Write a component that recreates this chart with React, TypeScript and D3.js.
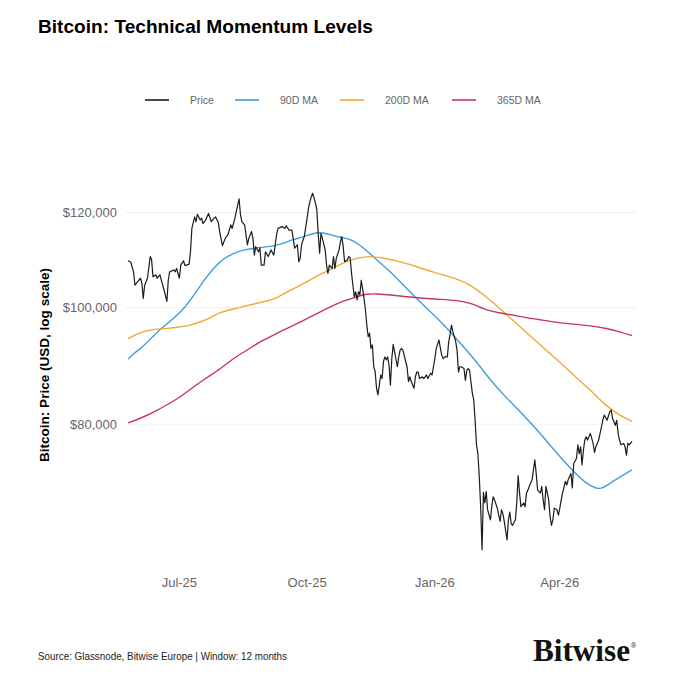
import React from "react";
import * as d3 from "d3";

// daily BTC close (USD)
const price: [string, number][] = [
  ["2025-05-25", 109400], ["2025-05-27", 109100], ["2025-05-29", 107100], ["2025-05-30", 104400],
  ["2025-06-01", 105100], ["2025-06-03", 105800], ["2025-06-04", 104800], ["2025-06-05", 101800],
  ["2025-06-06", 104400], ["2025-06-08", 105800], ["2025-06-10", 110300], ["2025-06-11", 109600],
  ["2025-06-12", 106100], ["2025-06-14", 106500], ["2025-06-15", 105800], ["2025-06-17", 106500],
  ["2025-06-19", 104400], ["2025-06-20", 103400], ["2025-06-22", 101200], ["2025-06-23", 105400],
  ["2025-06-24", 107100], ["2025-06-27", 107500], ["2025-06-28", 107100], ["2025-06-29", 107800],
  ["2025-07-01", 105800], ["2025-07-02", 108500], ["2025-07-04", 109400], ["2025-07-05", 108400],
  ["2025-07-08", 108700], ["2025-07-09", 111300], ["2025-07-10", 116400], ["2025-07-12", 119000],
  ["2025-07-13", 117900], ["2025-07-14", 119600], ["2025-07-16", 118300], ["2025-07-17", 118700],
  ["2025-07-18", 117500], ["2025-07-20", 118300], ["2025-07-22", 119800], ["2025-07-24", 117900],
  ["2025-07-26", 118700], ["2025-07-27", 119000], ["2025-07-29", 117800], ["2025-07-30", 115700],
  ["2025-08-01", 112600], ["2025-08-03", 114200], ["2025-08-05", 115000], ["2025-08-07", 117200],
  ["2025-08-08", 116400], ["2025-08-09", 117500], ["2025-08-10", 118700], ["2025-08-11", 120200],
  ["2025-08-13", 123200], ["2025-08-14", 119500], ["2025-08-15", 117900], ["2025-08-17", 117200],
  ["2025-08-18", 115000], ["2025-08-19", 112800], ["2025-08-20", 114200], ["2025-08-22", 115700],
  ["2025-08-23", 114200], ["2025-08-24", 110600], ["2025-08-25", 112400], ["2025-08-27", 111300],
  ["2025-08-28", 112100], ["2025-08-29", 108500], ["2025-08-31", 108500], ["2025-09-01", 111300],
  ["2025-09-03", 110300], ["2025-09-05", 111700], ["2025-09-07", 110600], ["2025-09-09", 115000],
  ["2025-09-10", 116400], ["2025-09-13", 116800], ["2025-09-15", 116400], ["2025-09-16", 117000],
  ["2025-09-18", 116000], ["2025-09-20", 116000], ["2025-09-21", 114200], ["2025-09-22", 112100],
  ["2025-09-24", 112800], ["2025-09-25", 109200], ["2025-09-26", 109900], ["2025-09-27", 112800],
  ["2025-09-28", 113800], ["2025-09-29", 114600], ["2025-10-01", 118700], ["2025-10-02", 121000],
  ["2025-10-03", 122500], ["2025-10-04", 123700], ["2025-10-05", 124500], ["2025-10-06", 123400],
  ["2025-10-07", 122200], ["2025-10-08", 120600], ["2025-10-09", 115300], ["2025-10-10", 111000],
  ["2025-10-11", 115300], ["2025-10-12", 114200], ["2025-10-14", 111700], ["2025-10-15", 108500],
  ["2025-10-16", 106800], ["2025-10-17", 108500], ["2025-10-19", 107800], ["2025-10-20", 110300],
  ["2025-10-21", 107800], ["2025-10-22", 109900], ["2025-10-24", 111700], ["2025-10-25", 113500],
  ["2025-10-26", 114600], ["2025-10-27", 112400], ["2025-10-28", 109200], ["2025-10-30", 109600],
  ["2025-10-31", 110300], ["2025-11-01", 110000], ["2025-11-02", 106800], ["2025-11-03", 104400],
  ["2025-11-04", 102100], ["2025-11-05", 103100], ["2025-11-06", 101500], ["2025-11-07", 103100],
  ["2025-11-08", 102500], ["2025-11-09", 105400], ["2025-11-11", 101800], ["2025-11-12", 99600],
  ["2025-11-13", 96700], ["2025-11-14", 94600], ["2025-11-15", 95200], ["2025-11-16", 92500],
  ["2025-11-17", 93100], ["2025-11-18", 89300], ["2025-11-19", 88500], ["2025-11-20", 85700],
  ["2025-11-21", 84600], ["2025-11-22", 86200], ["2025-11-23", 87900], ["2025-11-24", 87300],
  ["2025-11-25", 90200], ["2025-11-26", 91000], ["2025-11-27", 90500], ["2025-11-28", 91000],
  ["2025-11-29", 89600], ["2025-11-30", 86200], ["2025-12-01", 90700], ["2025-12-02", 93200],
  ["2025-12-03", 91900], ["2025-12-05", 89300], ["2025-12-06", 91000], ["2025-12-07", 92200],
  ["2025-12-08", 92500], ["2025-12-09", 92200], ["2025-12-11", 90200], ["2025-12-12", 89300],
  ["2025-12-13", 86800], ["2025-12-14", 87600], ["2025-12-15", 86800], ["2025-12-17", 85700],
  ["2025-12-18", 87600], ["2025-12-19", 88400], ["2025-12-20", 88400], ["2025-12-21", 87300],
  ["2025-12-23", 87600], ["2025-12-24", 87300], ["2025-12-25", 87600], ["2025-12-26", 87900],
  ["2025-12-27", 87300], ["2025-12-29", 88200], ["2025-12-30", 87900], ["2025-12-31", 89300],
  ["2026-01-01", 90700], ["2026-01-02", 92500], ["2026-01-04", 94000], ["2026-01-05", 92500],
  ["2026-01-06", 91300], ["2026-01-07", 90700], ["2026-01-08", 91000], ["2026-01-10", 91000],
  ["2026-01-11", 93700], ["2026-01-12", 95000], ["2026-01-13", 96700], ["2026-01-14", 95500],
  ["2026-01-16", 93700], ["2026-01-17", 92200], ["2026-01-18", 88400], ["2026-01-19", 89300],
  ["2026-01-20", 89300], ["2026-01-22", 89000], ["2026-01-23", 87000], ["2026-01-24", 88700],
  ["2026-01-25", 89000], ["2026-01-26", 88700], ["2026-01-28", 84900], ["2026-01-29", 83800],
  ["2026-01-30", 80600], ["2026-01-31", 76900], ["2026-02-01", 75600], ["2026-02-02", 72300],
  ["2026-02-03", 68300], ["2026-02-04", 62900], ["2026-02-05", 70200], ["2026-02-06", 68800],
  ["2026-02-07", 70300], ["2026-02-08", 67900], ["2026-02-10", 66600], ["2026-02-11", 68300],
  ["2026-02-12", 69600], ["2026-02-13", 69200], ["2026-02-15", 68100], ["2026-02-16", 67200],
  ["2026-02-17", 66400], ["2026-02-18", 67900], ["2026-02-19", 67400], ["2026-02-20", 66400],
  ["2026-02-22", 64100], ["2026-02-23", 66600], ["2026-02-24", 67600], ["2026-02-25", 66100],
  ["2026-02-26", 65900], ["2026-02-28", 66600], ["2026-03-01", 68800], ["2026-03-02", 72500],
  ["2026-03-03", 70100], ["2026-03-04", 68300], ["2026-03-06", 68800], ["2026-03-07", 68300],
  ["2026-03-08", 70100], ["2026-03-09", 70500], ["2026-03-10", 71000], ["2026-03-12", 71900],
  ["2026-03-13", 73300], ["2026-03-14", 74700], ["2026-03-15", 72800], ["2026-03-16", 70500],
  ["2026-03-18", 70100], ["2026-03-19", 71000], ["2026-03-20", 69200], ["2026-03-21", 67900],
  ["2026-03-22", 71000], ["2026-03-24", 69200], ["2026-03-25", 67000], ["2026-03-26", 65900],
  ["2026-03-27", 66600], ["2026-03-28", 68100], ["2026-03-30", 67900], ["2026-03-31", 67200],
  ["2026-04-01", 68100], ["2026-04-02", 69200], ["2026-04-03", 70100], ["2026-04-05", 71700],
  ["2026-04-06", 71200], ["2026-04-07", 71900], ["2026-04-09", 72800], ["2026-04-10", 70800],
  ["2026-04-11", 74200], ["2026-04-13", 74900], ["2026-04-14", 76900], ["2026-04-15", 75600],
  ["2026-04-16", 76600], ["2026-04-17", 74000], ["2026-04-18", 76100], ["2026-04-19", 77600],
  ["2026-04-20", 78100], ["2026-04-21", 77600], ["2026-04-23", 78600], ["2026-04-25", 77100],
  ["2026-04-26", 75800], ["2026-04-27", 76600], ["2026-04-29", 77600], ["2026-04-30", 78600],
  ["2026-05-01", 79600], ["2026-05-02", 80600], ["2026-05-03", 81400], ["2026-05-05", 80600],
  ["2026-05-07", 81900], ["2026-05-08", 82200], ["2026-05-09", 80900], ["2026-05-11", 79800],
  ["2026-05-12", 80600], ["2026-05-13", 78600], ["2026-05-14", 77600], ["2026-05-15", 76900],
  ["2026-05-17", 77100], ["2026-05-18", 76600], ["2026-05-19", 75400], ["2026-05-20", 77100],
  ["2026-05-21", 76900], ["2026-05-23", 77400],
];

const ma90: [string, number][] = [
  ["2025-05-25", 90600], ["2025-05-29", 91600], ["2025-06-05", 92800], ["2025-06-13", 95000],
  ["2025-06-20", 96500], ["2025-06-27", 98000], ["2025-07-04", 99700], ["2025-07-11", 102200],
  ["2025-07-19", 105500], ["2025-07-26", 108000], ["2025-08-02", 109900], ["2025-08-09", 111000],
  ["2025-08-16", 111700], ["2025-08-24", 112100], ["2025-08-31", 112300], ["2025-09-07", 112500],
  ["2025-09-14", 113100], ["2025-09-21", 114000], ["2025-09-28", 114400], ["2025-10-09", 115800],
  ["2025-10-18", 115000], ["2025-10-25", 114400], ["2025-11-01", 114100], ["2025-11-08", 112800],
  ["2025-11-15", 111000], ["2025-11-23", 108900], ["2025-11-30", 107100], ["2025-12-07", 105100],
  ["2025-12-14", 103100], ["2025-12-21", 101200], ["2025-12-29", 99200], ["2026-01-05", 97400],
  ["2026-01-12", 95500], ["2026-01-19", 93500], ["2026-01-29", 90800], ["2026-02-10", 87000],
  ["2026-02-22", 84000], ["2026-03-06", 81400], ["2026-03-18", 78600], ["2026-03-30", 75600],
  ["2026-04-11", 73000], ["2026-04-20", 71400], ["2026-04-27", 70700], ["2026-05-02", 70700],
  ["2026-05-09", 71700], ["2026-05-17", 72600], ["2026-05-23", 73300],
];

const ma200: [string, number][] = [
  ["2025-05-25", 94200], ["2025-06-01", 95200], ["2025-06-08", 95700], ["2025-06-15", 96000],
  ["2025-06-22", 96100], ["2025-06-29", 96300], ["2025-07-08", 96600], ["2025-07-16", 97300],
  ["2025-07-23", 98000], ["2025-07-30", 99100], ["2025-08-07", 99600], ["2025-08-14", 100100],
  ["2025-08-24", 100700], ["2025-09-02", 101300], ["2025-09-09", 101800], ["2025-09-16", 103000],
  ["2025-09-26", 104400], ["2025-10-03", 105400], ["2025-10-10", 106600], ["2025-10-18", 107500],
  ["2025-10-27", 109100], ["2025-11-06", 110000], ["2025-11-15", 110400], ["2025-11-25", 110000],
  ["2025-12-07", 109200], ["2025-12-19", 108200], ["2025-12-31", 107000], ["2026-01-12", 106100],
  ["2026-01-19", 105400], ["2026-01-26", 104600], ["2026-02-10", 101500], ["2026-02-22", 98600],
  ["2026-03-06", 95800], ["2026-03-18", 93100], ["2026-03-30", 90500], ["2026-04-11", 87900],
  ["2026-04-23", 85400], ["2026-05-05", 82700], ["2026-05-14", 81400], ["2026-05-23", 80400],
];

const ma365: [string, number][] = [
  ["2025-05-25", 80200], ["2025-06-03", 80900], ["2025-06-13", 81900], ["2025-06-22", 83000],
  ["2025-07-02", 84300], ["2025-07-11", 85900], ["2025-07-21", 87500], ["2025-07-31", 89000],
  ["2025-08-09", 90800], ["2025-08-19", 92200], ["2025-08-28", 93700], ["2025-09-07", 94900],
  ["2025-09-16", 96100], ["2025-09-26", 97200], ["2025-10-08", 98900], ["2025-10-18", 100200],
  ["2025-10-27", 101300], ["2025-11-06", 102100], ["2025-11-13", 102700], ["2025-11-20", 102700],
  ["2025-11-30", 102500], ["2025-12-12", 102100], ["2025-12-24", 101800], ["2026-01-05", 101600],
  ["2026-01-17", 101400], ["2026-01-26", 101000], ["2026-02-10", 99200], ["2026-02-22", 98800],
  ["2026-03-06", 98200], ["2026-03-18", 97700], ["2026-03-30", 97200], ["2026-04-11", 96900],
  ["2026-04-23", 96600], ["2026-05-05", 96100], ["2026-05-14", 95500], ["2026-05-23", 94800],
];

const seriesNames = ["Price", "90D MA", "200D MA", "365D MA"];
const seriesColors = ["#1c1c1c", "#3f9fd8", "#f0aa35", "#c8336b"];
const yTickValues = [80000, 100000, 120000];
const dateRange = ["2025-05-25", "2026-05-23"];

const parse = d3.utcParse("%Y-%m-%d");
const font = "'Liberation Sans', Arial, Helvetica, sans-serif";

export default function App() {
  const x = d3
    .scaleUtc()
    .domain(dateRange.map((s) => parse(s) as Date))
    .range([128, 632]);
  const y = d3.scaleLog().domain([62260, 125290]).range([555, 190]);

  const toPts = (arr: [string, number][]) => arr.map(([d, v]) => [parse(d) as Date, v] as [Date, number]);

  const priceLine = d3
    .line<[Date, number]>()
    .x((d) => x(d[0]))
    .y((d) => y(d[1]));
  const maLine = d3
    .line<[Date, number]>()
    .x((d) => x(d[0]))
    .y((d) => y(d[1]))
    .curve(d3.curveBasis);

  const xTicks = x.ticks(d3.utcMonth.every(3) as d3.TimeInterval);
  const fmtX = d3.utcFormat("%b-%y");
  const fmtY = (v: number) => "$" + d3.format(",")(v);

  const mas = [ma90, ma200, ma365];
  const legendX = [145, 235, 340, 452];

  return (
    <svg
      width={680}
      height={680}
      style={{ position: "absolute", left: 0, top: 0, background: "#fff" }}
      fontFamily={font}
    >
      <text x={38} y={33} fontSize={19} fontWeight={700} fill="#000" textLength={335} lengthAdjust="spacingAndGlyphs">
        Bitcoin: Technical Momentum Levels
      </text>

      {seriesNames.map((name, i) => (
        <g key={name}>
          <line x1={legendX[i]} x2={legendX[i] + 24} y1={100} y2={100} stroke={seriesColors[i]} strokeWidth={1.6} />
          <text x={legendX[i] + 45} y={100} dy="0.35em" fontSize={10.5} fill="#666">
            {name}
          </text>
        </g>
      ))}

      {yTickValues.map((v) => (
        <g key={v}>
          <line x1={125} x2={636} y1={y(v)} y2={y(v)} stroke="#f0f0f0" strokeWidth={1} />
          <text x={117} y={y(v)} dy="0.35em" textAnchor="end" fontSize={13} fill="#666">
            {fmtY(v)}
          </text>
        </g>
      ))}

      <text
        transform="translate(49,365) rotate(-90)"
        textAnchor="middle"
        fontSize={13}
        fontWeight={700}
        fill="#000"
        textLength={194}
        lengthAdjust="spacingAndGlyphs"
      >
        Bitcoin: Price (USD, log scale)
      </text>

      {xTicks.map((t) => (
        <text key={t.toISOString()} x={x(t)} y={587} textAnchor="middle" fontSize={13} fill="#666">
          {fmtX(t)}
        </text>
      ))}

      {mas.map((arr, i) => (
        <path key={i} d={maLine(toPts(arr)) ?? ""} fill="none" stroke={seriesColors[i + 1]} strokeWidth={1.4} />
      ))}
      <path d={priceLine(toPts(price)) ?? ""} fill="none" stroke={seriesColors[0]} strokeWidth={1.2} strokeLinejoin="round" />

      <text x={38} y={660} fontSize={10.5} fill="#222" textLength={249} lengthAdjust="spacingAndGlyphs">
        Source: Glassnode, Bitwise Europe | Window: 12 months
      </text>

      <text
        x={533}
        y={661}
        fontFamily="'Liberation Serif', 'Times New Roman', serif"
        fontWeight={700}
        fontSize={32}
        fill="#111"
        textLength={97}
        lengthAdjust="spacingAndGlyphs"
      >
        Bitwise
      </text>
      <text x={631} y={648} fontSize={7} fill="#111" fontFamily={font}>
        ®
      </text>
    </svg>
  );
}
